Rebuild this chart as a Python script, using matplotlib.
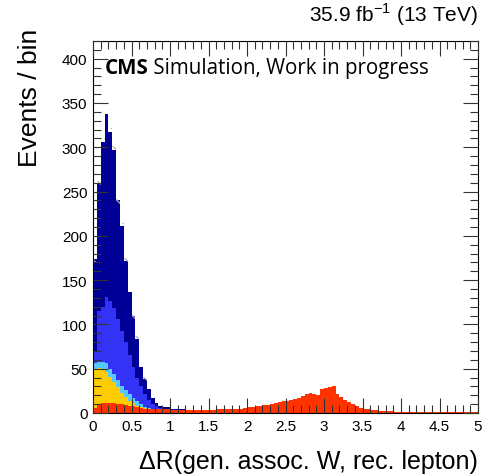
import numpy as np
import matplotlib
matplotlib.use('Agg')
import matplotlib.pyplot as plt
from matplotlib.ticker import MultipleLocator, FuncFormatter

# ── binning: 100 bins of 0.05 in ΔR ─────────────────────────────
edges = np.linspace(0, 5, 101)

# per-process contents, bin by bin (stacked from bottom to top)
red = [6, 10, 11, 11, 11, 11, 10, 10, 9, 8, 8, 7, 6, 5, 5, 4, 4, 4, 4, 4,
       3, 3, 3, 3, 3, 3, 3, 3, 3, 3, 3, 3, 4, 4, 4, 4, 5, 5, 5, 6,
       6.5, 7, 7.5, 8, 8.5, 9, 10, 11, 12, 13,
       14, 15, 16, 17, 19, 22, 23, 22, 20, 27,
       28, 29, 31, 21, 18, 15, 12, 10, 8, 6,
       5, 4, 3.5, 3, 2.5, 2.5, 2, 2, 1.5, 1.5,
       1.5, 1.5, 1.5, 1, 1, 1, 1, 1, 1, 1,
       1, 1, 1, 1, 1, 1, 1, 1, 1, 0.8]
yellow = [42, 41, 39, 35, 30, 24, 19, 13, 9, 6, 3, 1, 0.5, 0.3]
cyan = [9, 7, 8, 10, 9, 9, 8, 8, 8, 7, 6, 5, 4, 2, 1, 0.8, 0.6, 0.4, 0.2]
blue = [12, 57, 62, 75, 76, 74, 69, 62, 54, 45, 35, 27, 20, 14, 9, 5.5, 3, 1.5,
        0.5, 0.5, 0.3, 0.3, 0.2]
navy = [105, 143, 186, 207, 191, 179, 134, 118, 92, 71, 57, 44, 21, 17, 12, 7,
        4, 2, 2, 2, 1.5, 1, 1, 1, 0.5, 0.5, 0.3, 0.3]
stat_unc = [3, 4, 4, 4.5, 4.5, 4, 3.5, 3.5, 3, 3, 2.5, 2.5, 2, 2, 1.5, 1.5,
            1, 1, 1, 1]

COLORS = ['#ff3300', '#ffcc00', '#55c8ff', '#3333f5', '#000096']


def pad(vals, n=100):
    out = np.zeros(n)
    out[:len(vals)] = vals
    return out


stack = [pad(v) for v in (red, yellow, cyan, blue, navy)]
unc = pad(stat_unc)

plt.rcParams['font.family'] = ['Liberation Sans', 'DejaVu Sans']
plt.rcParams['hatch.color'] = '#b0b0b0'
plt.rcParams['hatch.linewidth'] = 0.9

fig = plt.figure(figsize=(4.83, 4.77), dpi=100)
ax = fig.add_axes([93 / 483, 1 - 414 / 477, 385 / 483, 372 / 477])

bottom = np.zeros(100)
for vals, col in zip(stack, COLORS):
    ax.stairs(bottom + vals, edges, baseline=bottom, fill=True,
              color=col, lw=0)
    bottom = bottom + vals

# stat. uncertainty band on the total
tot = bottom
ax.bar(edges[:-1], 2 * unc, bottom=tot - unc, width=0.05, align='edge',
       fill=False, hatch='\\\\', lw=0, edgecolor='#b0b0b0')

ax.set_xlim(0, 5)
ax.set_ylim(0, 420)

ax.xaxis.set_major_locator(MultipleLocator(0.5))
ax.xaxis.set_minor_locator(MultipleLocator(0.1))
ax.yaxis.set_major_locator(MultipleLocator(50))
ax.yaxis.set_minor_locator(MultipleLocator(10))
ax.xaxis.set_major_formatter(FuncFormatter(lambda v, _: f'{v:g}'))
ax.tick_params(which='both', direction='in', top=True, right=True,
               labelsize=11, width=0.8, color='#333333')
ax.tick_params(which='major', length=11, pad=4)
ax.tick_params(which='minor', length=5.5)
for s in ax.spines.values():
    s.set_linewidth(0.8)

ax.set_axisbelow(False)

fig.text(478 / 483, 1 - 22 / 477, r'35.9 fb$^{\mathregular{-1}}$ (13 TeV)',
         ha='right', va='baseline', fontsize=15)
fig.text(478 / 483, 1 - 469 / 477, 'ΔR(gen. assoc. W, rec. lepton)',
         ha='right', va='baseline', fontsize=18)
fig.text(30 / 483, 1 - 29 / 477, 'Events / bin', rotation=90,
         ha='center', va='top', fontsize=19)

cms = ax.text(0.03, 0.915, 'CMS', transform=ax.transAxes, fontsize=14.8,
              fontweight='bold', family='Open Sans', va='baseline')
ax.annotate(' Simulation, Work in progress', xy=(1, 0), xycoords=cms,
            va='bottom', fontsize=14.8, family='Open Sans')

fig.savefig('out.png', dpi=100)
